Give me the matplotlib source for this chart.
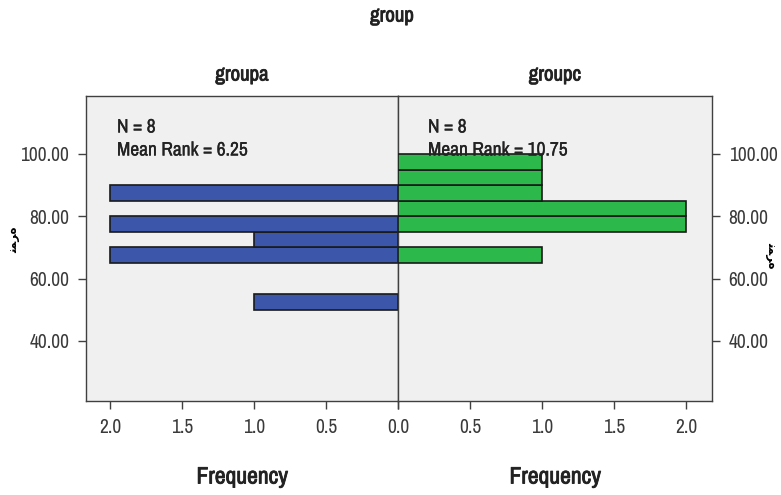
import matplotlib
matplotlib.use("Agg")
import matplotlib.pyplot as plt
import matplotlib.patheffects as pe
from matplotlib import font_manager

# Histogram bins (lower edges) and frequencies per group
bin_lows = [50, 55, 60, 65, 70, 75, 80, 85, 90, 95]
bin_width = 5
groupa_counts = [1, 0, 0, 2, 1, 2, 0, 2, 0, 0]
groupc_counts = [0, 0, 0, 1, 0, 2, 2, 1, 1, 1]
panel_names = ["groupa", "groupc"]
n_values = [8, 8]
mean_ranks = ["6.25", "10.75"]
y_ticks = [40, 60, 80, 100]
x_ticks = [0.0, 0.5, 1.0, 1.5, 2.0]

available = {f.name for f in font_manager.fontManager.ttflist}
families = [f for f in ["Archivo Narrow", "Roboto Condensed", "Liberation Sans Narrow"] if f in available]
plt.rcParams['font.family'] = families + ['DejaVu Sans']

W, H = 781, 495
fig = plt.figure(figsize=(W / 100, H / 100), dpi=100)
fig.patch.set_facecolor("white")

left_px, mid_px, right_px = 86, 398, 712
top_px, bot_px = 96, 401


def box(x0, x1):
    return [x0 / W, 1 - bot_px / H, (x1 - x0) / W, (bot_px - top_px) / H]


ax_a = fig.add_axes(box(left_px, mid_px))
ax_c = fig.add_axes(box(mid_px, right_px))

bg = "#F0F0F0"
colors = ["#3C56AA", "#2DB84B"]
spine_col = "#404040"
ylim = (20.7, 118.6)

for ax, counts, col in [(ax_a, groupa_counts, colors[0]), (ax_c, groupc_counts, colors[1])]:
    ax.set_facecolor(bg)
    for lo, c in zip(bin_lows, counts):
        if c > 0:
            ax.barh(lo, c, height=bin_width, align="edge", color=col,
                    edgecolor="#1a1a1a", linewidth=1.2, zorder=3)
    ax.set_ylim(*ylim)
    ax.set_xticks(x_ticks)
    ax.set_yticks(y_ticks)
    ax.set_yticklabels([f"{t:.2f}" for t in y_ticks])
    for s in ax.spines.values():
        s.set_color(spine_col)
        s.set_linewidth(1.0)
    ax.tick_params(axis="both", direction="out", length=6, width=1.0,
                   color=spine_col, labelsize=14, labelcolor="#3a3a3a", pad=6)

# The shared zero is labelled once, on the left panel
ax_a.set_xticklabels([f"{t:.1f}" for t in x_ticks])
ax_c.set_xticklabels([""] + [f"{t:.1f}" for t in x_ticks[1:]])

ax_a.set_xlim(2.17, 0)
ax_c.set_xlim(0, 2.18)
ax_a.yaxis.tick_left()
ax_c.yaxis.tick_right()

# Heavier strokes for the bold headings
bold = [pe.withStroke(linewidth=0.6, foreground="#222222")]

label_kw = dict(fontsize=15, color="#222222", ha="center", va="center", path_effects=bold)
fig.text(392 / W, 1 - 16 / H, "group", **label_kw)
fig.text(242 / W, 1 - 75 / H, panel_names[0], **label_kw)
fig.text(555 / W, 1 - 75 / H, panel_names[1], **label_kw)
fig.text(242 / W, 1 - 477 / H, "Frequency", fontsize=17, color="#222222",
         ha="center", va="center", path_effects=bold)
fig.text(555 / W, 1 - 477 / H, "Frequency", fontsize=17, color="#222222",
         ha="center", va="center", path_effects=bold)

stat_kw = dict(fontsize=14, color="#222222", ha="left", va="center", zorder=5,
               path_effects=[pe.withStroke(linewidth=0.2, foreground="#222222")])
for xpx, n, mr in [(117, n_values[0], mean_ranks[0]), (428, n_values[1], mean_ranks[1])]:
    fig.text(xpx / W, 1 - 127 / H, f"N = {n}", **stat_kw)
    fig.text(xpx / W, 1 - 150 / H, f"Mean Rank = {mr}", **stat_kw)

# Vertical axis titles on both sides
ylab = "ﻧﻤﺮه"
fig.text(14 / W, 1 - 240 / H, ylab, fontsize=8.5, fontweight="bold", rotation=90,
         ha="center", va="center", family=["DejaVu Sans"])
fig.text(772 / W, 1 - 255 / H, ylab, fontsize=8.5, fontweight="bold", rotation=-90,
         ha="center", va="center", family=["DejaVu Sans"])

fig.savefig("out.png", dpi=100)
